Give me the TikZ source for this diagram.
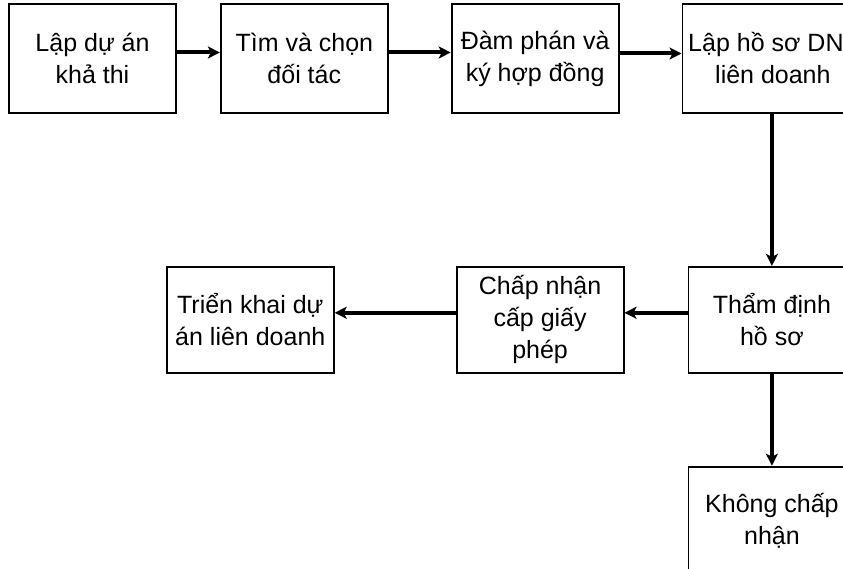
\documentclass[tikz,border=0pt]{standalone}
\usepackage{fontspec}
\setmainfont{Liberation Sans}
\usetikzlibrary{arrows.meta, positioning}

\tikzset{
  box/.style={draw, line width=1.8pt, rectangle, align=center, inner sep=0pt,
    minimum width=167pt, minimum height=109pt,
    font=\fontsize{25}{32}\selectfont},
  flow/.style={line width=4pt, -{Stealth[length=12pt, width=12pt, inset=3pt]}},
}

\begin{document}
\begin{tikzpicture}
\useasboundingbox (0,0) rectangle (843pt,-569pt);
\clip (0,0) rectangle (843pt,-569pt);
% top row
\node [box] (lap) at (92.5pt,-58.5pt) {Lập dự án\\khả thi};
\node [box, right=43pt of lap] (tim) {Tìm và chọn\\đối tác};
\node [box, right=62pt of tim] (dam) {Đàm phán và\\ký hợp đồng};
\node [box, right=62pt of dam] (hoso) {Lập hồ sơ DN\\\hspace*{14pt}liên doanh};
\draw[flow] ([yshift=6pt]lap.east) -- ([yshift=6pt]tim.west);
\draw[flow] ([yshift=6pt]tim.east) -- ([yshift=6pt]dam.west);
\draw[flow] ([yshift=5pt]dam.east) -- ([yshift=5pt]hoso.west);
% second row, right to left
\node [box, minimum height=106pt, below=152pt of hoso, xshift=6pt] (thamdinh) {Thẩm định\\hồ sơ};
\node [box, minimum height=106pt, left=63pt of thamdinh] (chapnhan) {Chấp nhận\\cấp giấy\\phép};
\node [box, minimum height=106pt, left=121pt of chapnhan] (trienkhai) {Triển khai dự\\án liên doanh};
\draw[flow] (hoso.south -| thamdinh.north) -- (thamdinh.north);
\draw[flow] ([yshift=7pt]thamdinh.west) -- ([yshift=7pt]chapnhan.east);
\draw[flow] ([yshift=7pt]chapnhan.west) -- ([yshift=7pt]trienkhai.east);
% rejected branch
\node [box, below=92pt of thamdinh] (khong) {Không chấp\\nhận};
\draw[flow] (thamdinh) -- (khong);
\end{tikzpicture}
\end{document}
